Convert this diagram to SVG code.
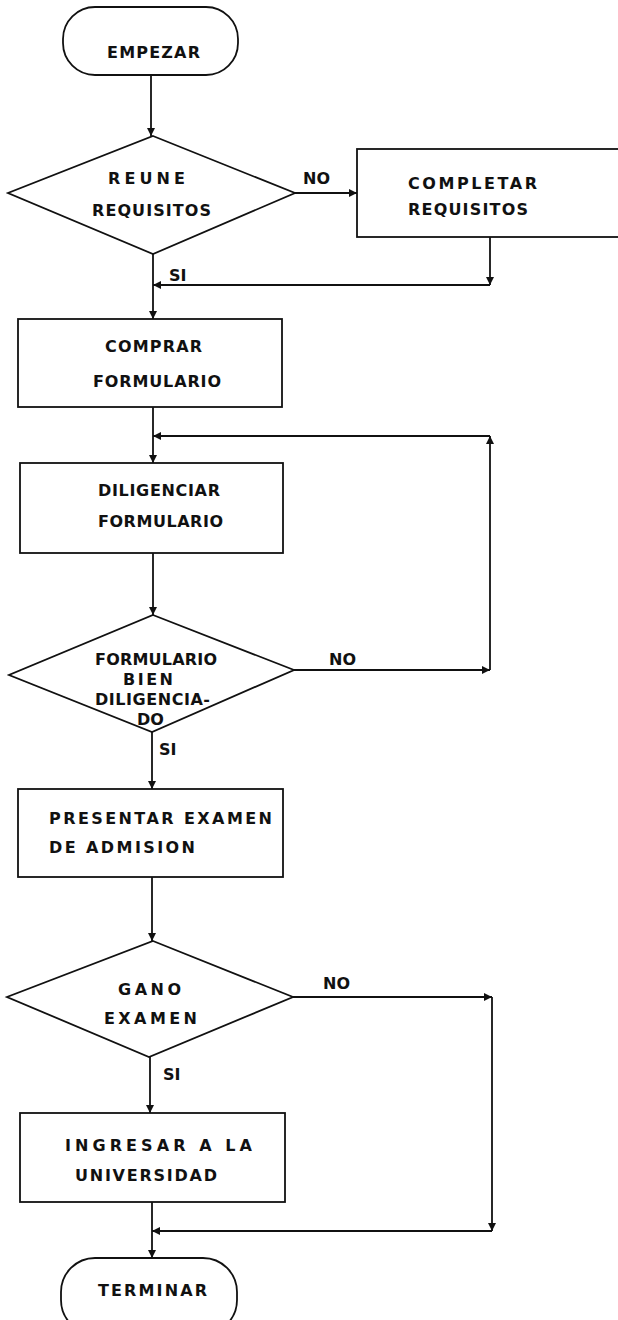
<svg xmlns="http://www.w3.org/2000/svg" width="618" height="1320" viewBox="0 0 618 1320">
  <style>
    .shape { fill: none; stroke: #111; stroke-width: 1.8; }
    .line { fill: none; stroke: #111; stroke-width: 1.8; }
    .t { font-family: "DejaVu Sans", "Liberation Sans", sans-serif; font-weight: bold; font-size: 16px; fill: #111; }
  </style>
  <defs>
    <marker id="arrow" viewBox="0 0 10 10" refX="10" refY="5" markerWidth="8" markerHeight="8" markerUnits="userSpaceOnUse" orient="auto">
      <path d="M0,0 L10,5 L0,10 z" fill="#111"/>
    </marker>
  </defs>
  <rect width="618" height="1320" fill="#fff"/>

  <!-- flow connectors -->
  <g id="connectors" class="line">
    <path d="M151 75 V136" marker-end="url(#arrow)"/>
    <path d="M295 193 H357" marker-end="url(#arrow)"/>
    <path d="M490 237 V285" marker-end="url(#arrow)"/>
    <path d="M490 285 H153" marker-end="url(#arrow)"/>
    <path d="M153 254 V319" marker-end="url(#arrow)"/>
    <path d="M153 407 V463" marker-end="url(#arrow)"/>
    <path d="M153 553 V615" marker-end="url(#arrow)"/>
    <path d="M294 670 H490" marker-end="url(#arrow)"/>
    <path d="M490 670 V436" marker-end="url(#arrow)"/>
    <path d="M490 436 H153" marker-end="url(#arrow)"/>
    <path d="M152 732 V789" marker-end="url(#arrow)"/>
    <path d="M152 877 V941" marker-end="url(#arrow)"/>
    <path d="M293 997 H492" marker-end="url(#arrow)"/>
    <path d="M492 997 V1231" marker-end="url(#arrow)"/>
    <path d="M492 1231 H152" marker-end="url(#arrow)"/>
    <path d="M150 1057 V1113" marker-end="url(#arrow)"/>
    <path d="M152 1202 V1258" marker-end="url(#arrow)"/>
  </g>

  <!-- branch labels -->
  <g id="labels" class="t">
    <text x="303" y="184">NO</text>
    <text x="169" y="281">SI</text>
    <text x="329" y="665">NO</text>
    <text x="159" y="755">SI</text>
    <text x="323" y="989">NO</text>
    <text x="163" y="1080">SI</text>
  </g>

  <g id="empezar">
    <rect class="shape" x="63" y="7" width="175" height="68" rx="32"/>
    <text class="t" x="107" y="58" textLength="93" lengthAdjust="spacing">EMPEZAR</text>
  </g>

  <g id="reune-requisitos">
    <polygon class="shape" points="153,136 295,193 153,254 8,193"/>
    <text class="t" x="108" y="184" textLength="77" lengthAdjust="spacing">REUNE</text>
    <text class="t" x="92" y="216" textLength="119" lengthAdjust="spacing">REQUISITOS</text>
  </g>

  <g id="completar-requisitos">
    <rect class="shape" x="357" y="149" width="270" height="88"/>
    <text class="t" x="408" y="189" textLength="129" lengthAdjust="spacing">COMPLETAR</text>
    <text class="t" x="408" y="215" textLength="120" lengthAdjust="spacing">REQUISITOS</text>
  </g>

  <g id="comprar-formulario">
    <rect class="shape" x="18" y="319" width="264" height="88"/>
    <text class="t" x="105" y="352" textLength="97" lengthAdjust="spacing">COMPRAR</text>
    <text class="t" x="93" y="387" textLength="128" lengthAdjust="spacing">FORMULARIO</text>
  </g>

  <g id="diligenciar-formulario">
    <rect class="shape" x="20" y="463" width="263" height="90"/>
    <text class="t" x="98" y="496" textLength="122" lengthAdjust="spacing">DILIGENCIAR</text>
    <text class="t" x="98" y="527" textLength="125" lengthAdjust="spacing">FORMULARIO</text>
  </g>

  <g id="formulario-bien">
    <polygon class="shape" points="153,615 294,670 152,732 9,675"/>
    <text class="t" x="95" y="665" textLength="122" lengthAdjust="spacing">FORMULARIO</text>
    <text class="t" x="123" y="685" textLength="50" lengthAdjust="spacing">BIEN</text>
    <text class="t" x="95" y="705" textLength="115" lengthAdjust="spacing">DILIGENCIA-</text>
    <text class="t" x="137" y="725">DO</text>
  </g>

  <g id="presentar-examen">
    <rect class="shape" x="18" y="789" width="265" height="88"/>
    <text class="t" x="49" y="824" textLength="223" lengthAdjust="spacing">PRESENTAR  EXAMEN</text>
    <text class="t" x="49" y="853" textLength="146" lengthAdjust="spacing">DE  ADMISION</text>
  </g>

  <g id="gano-examen">
    <polygon class="shape" points="153,941 293,997 149,1057 7,997"/>
    <text class="t" x="118" y="995" textLength="63" lengthAdjust="spacing">GANO</text>
    <text class="t" x="104" y="1024" textLength="93" lengthAdjust="spacing">EXAMEN</text>
  </g>

  <g id="ingresar-universidad">
    <rect class="shape" x="20" y="1113" width="265" height="89"/>
    <text class="t" x="65" y="1151" textLength="187" lengthAdjust="spacing">INGRESAR  A  LA</text>
    <text class="t" x="75" y="1181" textLength="142" lengthAdjust="spacing">UNIVERSIDAD</text>
  </g>

  <g id="terminar">
    <rect class="shape" x="61" y="1258" width="176" height="76" rx="34"/>
    <text class="t" x="98" y="1296" textLength="109" lengthAdjust="spacing">TERMINAR</text>
  </g>
</svg>
